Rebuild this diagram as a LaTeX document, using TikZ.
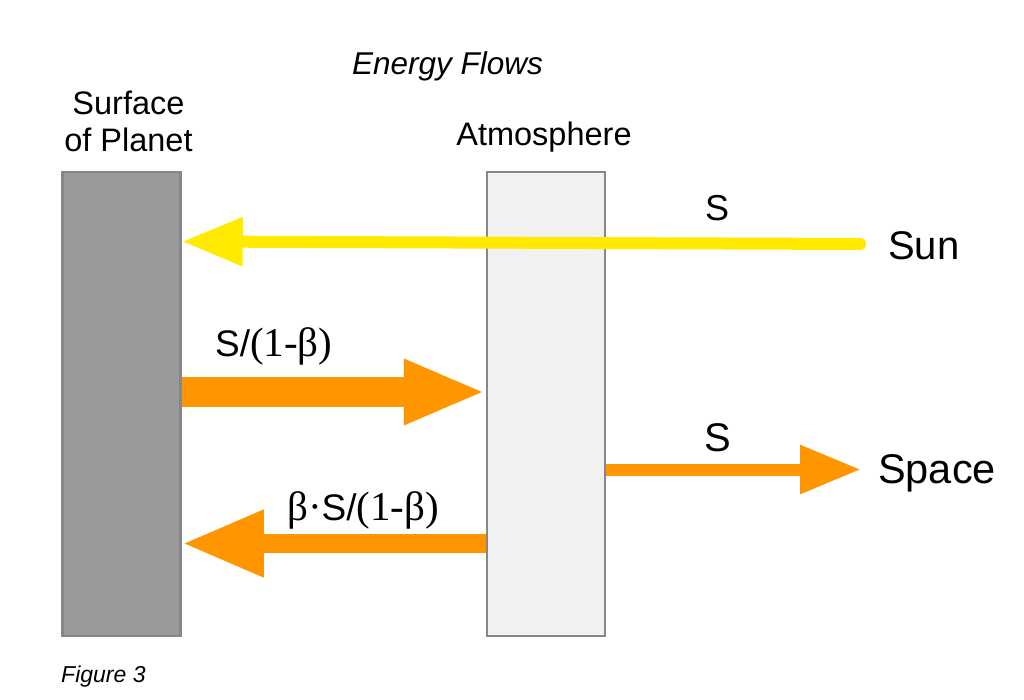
\documentclass[tikz,border=0pt]{standalone}
\usepackage{fontspec}
\setmainfont{Liberation Sans}
\newfontfamily\serifb{Liberation Serif}
\usetikzlibrary{arrows.meta}
\definecolor{sunyellow}{RGB}{255,234,0}
\definecolor{flow}{RGB}{255,150,0}
\definecolor{planetgray}{RGB}{153,153,153}
\definecolor{boxedge}{RGB}{135,135,135}
\definecolor{atmfill}{RGB}{241,241,241}
\newcommand{\sermath}[1]{{\fontsize{41}{46}\selectfont\serifb #1}}
\begin{document}
\begin{tikzpicture}[x=1pt,y=-1pt,
  layer/.style={draw=boxedge, line width=2.5pt, minimum width=118pt, minimum height=464pt, inner sep=0pt},
  lbl/.style={inner sep=0pt, anchor=base},
  lblw/.style={inner sep=0pt, anchor=base west},
  fbig/.style={font=\fontsize{40}{46}\selectfont},
  fmid/.style={font=\fontsize{37}{44}\selectfont},
  fhead/.style={font=\fontsize{32.5}{37}\selectfont},
  fsmall/.style={font=\fontsize{23}{27}\selectfont\itshape},
  sunray/.style={draw=sunyellow, line width=12pt, line cap=round, -{Triangle[length=61pt,width=46pt]}},
  flowA/.style={draw=flow, line width=30pt, -{Triangle[length=82pt,width=60pt]}},
  flowB/.style={draw=flow, line width=19pt, -{Triangle[length=82pt,width=62pt]}},
  flowC/.style={draw=flow, line width=12pt, -{Triangle[length=61pt,width=46pt]}}]
\useasboundingbox (0,0) rectangle (1024,700);
\fill[white] (0,0) rectangle (1024,700);

% layers
\node[layer, fill=planetgray] (surf) at (121.5,404) {};
\node[layer, fill=atmfill] (atm) at (546,404) {};

% headings
\node[lbl, font=\fontsize{31.5}{37}\selectfont\itshape] (title) at (447.5,74.5) {Energy Flows};
\node[lbl, fhead, align=center] (surflbl) at (128.5,151.7) {Surface\\of Planet};
\node[lbl, fhead] (atmlbl) at (544,146) {Atmosphere};
\node[lblw, fsmall] (fig) at (61,682) {Figure 3};

% end labels
\node[lblw, fbig] (sun) at (888,260) {Sun};
\node[lblw, font=\fontsize{41.5}{46}\selectfont] (space) at (878,483.3) {Space};

% row coordinates
\coordinate (sunsrc) at (860,244);
\coordinate (ysun) at (0,241.5);
\coordinate (r1) at (0,392);
\coordinate (r2) at (0,543.5);
\coordinate (r3) at (0,469.5);
\coordinate (spacetip) at (861,469.5);

% arrows
\draw[sunray] (sunsrc) -- (surf.east |- ysun);
\draw[flowA] (surf.east |- r1) -- (atm.west |- r1);
\draw[flowB] (atm.west |- r2) -- (surf.east |- r2);
\draw[flowC] (atm.east |- r3) -- (spacetip);

% flow labels
\node[lbl, font=\fontsize{36}{42}\selectfont] (sunS) at (717,221) {S};
\node[lbl, fbig] (spaceS) at (717.5,451.7) {S};
\node[lblw, fmid] (upflow) at (215,356.7) {S/\sermath{(1-β)}};
\node[lblw, fmid] (backflow) at (287,520) {\sermath{β·}S/\sermath{(1-β)}};
\end{tikzpicture}
\end{document}
